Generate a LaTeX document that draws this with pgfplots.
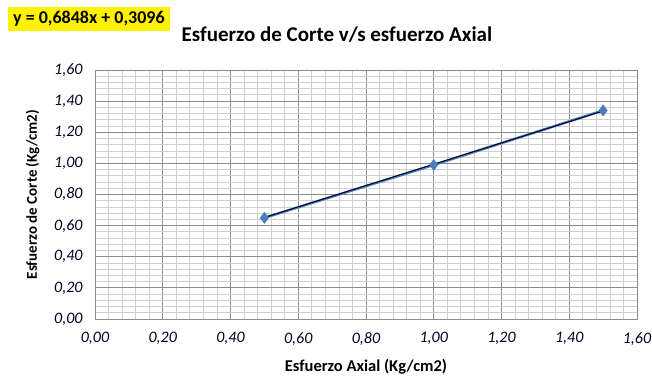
\documentclass[border=0pt]{standalone}
\usepackage{pgfplots}
\pgfplotsset{compat=1.18}
\usepackage{fontspec}
\setmainfont{Carlito}
\definecolor{serblue}{HTML}{4A7EBB}
\definecolor{gridmaj}{HTML}{8C8C8C}
\definecolor{gridmin}{HTML}{D0D0D0}
\begin{document}
\begin{tikzpicture}
\useasboundingbox (0pt,0pt) rectangle (652pt,377pt);
\begin{axis}[
  at={(95pt,58pt)}, anchor=south west,
  scale only axis, width=542pt, height=249pt,
  xmin=0, xmax=1.6, ymin=0, ymax=1.6,
  xtick={0,0.2,...,1.6}, ytick={0,0.2,...,1.6},
  xticklabels={{0,00},{0,20},{0,40},{0,60},{0,80},{1,00},{1,20},{1,40},{1,60}},
  yticklabels={{0,00},{0,20},{0,40},{0,60},{0,80},{1,00},{1,20},{1,40},{1,60}},
  minor tick num=4,
  grid=both,
  major grid style={gridmaj, line width=0.8pt},
  minor grid style={gridmin, line width=0.8pt},
  axis line style={gridmaj, line width=0.8pt},
  tick style={draw=none},
  ticklabel style={font=\fontsize{16}{18}\selectfont\itshape, text=black!85!blue},
  xticklabel style={yshift=-10pt},
  yticklabel style={xshift=-9pt},
  xlabel={\textbf{Esfuerzo Axial (Kg/cm2)}},
  ylabel={\textbf{Esfuerzo de Corte (Kg/cm2)}},
  xlabel style={font=\fontsize{16.5}{18}\selectfont, at={(axis description cs:0.5,0)}, anchor=north, yshift=-37pt},
  ylabel style={font=\fontsize{15}{17}\selectfont, at={(axis description cs:0,0.5)}, anchor=south, yshift=52pt},
]
\addplot[serblue, line width=2.5pt, mark=diamond*, mark size=5.5pt,
  mark options={fill=serblue, draw=serblue, line width=0.5pt}]
  coordinates {(0.5,0.65) (1.0,0.99) (1.5,1.34)};
\addplot[black!85!blue, line width=1pt]
  coordinates {(0.5,0.652) (1.5,1.3368)};
\end{axis}
\fill[yellow] (8pt,346pt) rectangle (170pt,370pt);
\node[anchor=west, inner sep=0pt, font=\fontsize{18}{19}\selectfont\bfseries] at (13pt,358pt) {y = 0,6848x + 0,3096};
\node[font=\fontsize{21}{23}\selectfont\bfseries] at (337pt,342pt) {Esfuerzo de Corte v/s esfuerzo Axial};
\end{tikzpicture}
\end{document}
